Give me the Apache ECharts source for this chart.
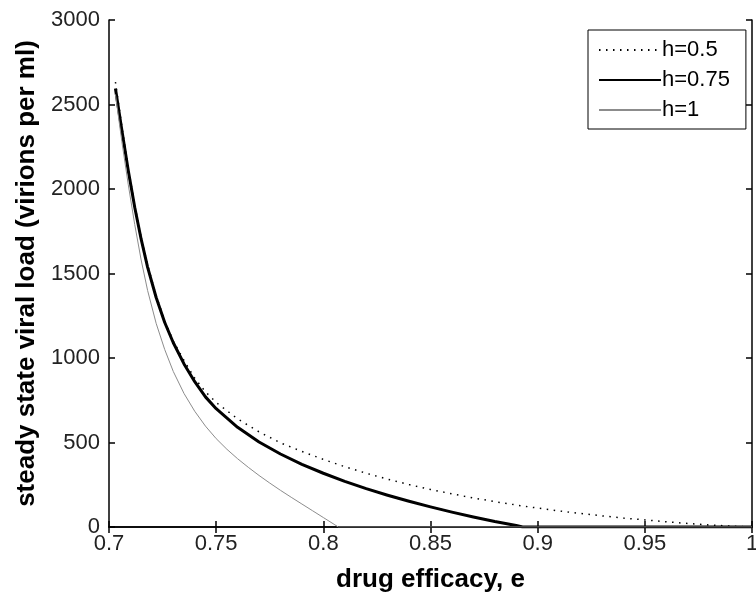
<!DOCTYPE html>
<html>
<head>
<meta charset="utf-8">
<script src="https://cdn.jsdelivr.net/npm/echarts@6/dist/echarts.min.js"></script>
<style>
  html, body { margin: 0; padding: 0; background: #fff; }
  #chart { width: 756px; height: 596px; }
</style>
</head>
<body>
<div id="chart"></div>
<script>
// Steady state viral load versus drug efficacy for three values of h
const seriesNames = ['h=0.5', 'h=0.75', 'h=1'];

// drug efficacy e and steady state viral load (virions per ml)
const efficacyH05 = [0.703, 0.706, 0.709, 0.712, 0.715, 0.718, 0.722, 0.726, 0.73, 0.735, 0.74, 0.745, 0.75, 0.76, 0.77, 0.78, 0.79, 0.80, 0.81, 0.82, 0.83, 0.84, 0.85, 0.86, 0.87, 0.88, 0.89, 0.90, 0.91, 0.92, 0.93, 0.94, 0.95, 0.96, 0.97, 0.98, 0.99, 1.0];
const loadH05 = [2633, 2370, 2125, 1905, 1715, 1550, 1370, 1220, 1100, 985, 880, 800, 737, 640, 563, 498, 447, 400, 357, 318, 283, 251, 222, 196, 172, 150, 130, 112, 95, 80, 66, 53, 42, 31, 21, 12, 5, 0];

const efficacyH075 = [0.703, 0.706, 0.709, 0.712, 0.715, 0.718, 0.722, 0.726, 0.73, 0.735, 0.74, 0.745, 0.75, 0.76, 0.77, 0.78, 0.79, 0.80, 0.81, 0.82, 0.83, 0.84, 0.85, 0.86, 0.87, 0.88, 0.89, 0.893, 0.95, 1.0];
const loadH075 = [2595, 2348, 2108, 1892, 1703, 1538, 1358, 1210, 1090, 965, 860, 770, 700, 590, 503, 432, 371, 318, 270, 227, 188, 152, 119, 88, 59, 32, 9, 0, 0, 0];

const efficacyH1 = [0.703, 0.706, 0.709, 0.712, 0.715, 0.718, 0.722, 0.726, 0.73, 0.735, 0.74, 0.745, 0.75, 0.755, 0.76, 0.765, 0.77, 0.775, 0.78, 0.785, 0.79, 0.795, 0.80, 0.805, 0.807, 0.9, 1.0];
const loadH1 = [2560, 2280, 2025, 1790, 1580, 1400, 1205, 1050, 920, 790, 685, 597, 523, 460, 404, 353, 305, 260, 217, 176, 136, 96, 56, 16, 0, 0, 0];

// axis ranges and tick spacing
const xMin = 0.7, xMax = 1.0, xStep = 0.05;
const yMin = 0, yMax = 3000, yStep = 500;

const pair = (xs, ys) => xs.map((x, i) => [x, ys[i]]);

const FONT = '"Liberation Sans", Arial, Helvetica, sans-serif';

const frameAxis = {
  axisLine: { show: true, lineStyle: { color: '#000', width: 1.5 } },
  axisTick: { show: true, inside: true, length: 6, lineStyle: { color: '#000', width: 1.5 } },
  splitLine: { show: false }
};

const chart = echarts.init(document.getElementById('chart'), null, { renderer: 'canvas' });

chart.setOption({
  animation: false,
  backgroundColor: '#fff',
  grid: { left: 109, right: 4, top: 20, bottom: 69, outerBoundsMode: 'none', containLabel: false },
  legend: {
    data: seriesNames,
    orient: 'vertical',
    left: 588,
    top: 30,
    padding: [9, 16, 8, 10],
    itemWidth: 62,
    itemHeight: 22,
    itemGap: 8,
    backgroundColor: '#fff',
    borderColor: '#000',
    borderWidth: 1,
    itemStyle: { color: 'rgba(0,0,0,0)', borderWidth: 0, opacity: 0 },
    textStyle: { fontFamily: FONT, fontSize: 22, color: '#000', padding: [0, 0, 0, -4] }
  },
  xAxis: [
    Object.assign({
      type: 'value', min: xMin, max: xMax, interval: xStep, position: 'bottom',
      name: 'drug efficacy, e', nameLocation: 'middle', nameGap: 40,
      nameTextStyle: { fontFamily: FONT, fontSize: 26, fontWeight: 'bold', color: '#000' },
      axisLabel: { fontFamily: FONT, fontSize: 22, color: '#222', margin: 6 }
    }, frameAxis),
    Object.assign({
      type: 'value', min: xMin, max: xMax, interval: xStep, position: 'top',
      axisLabel: { show: false }
    }, frameAxis)
  ],
  yAxis: [
    Object.assign({
      type: 'value', min: yMin, max: yMax, interval: yStep, position: 'left',
      name: 'steady state viral load (virions per ml)', nameLocation: 'middle', nameGap: 58,
      nameTextStyle: { fontFamily: FONT, fontSize: 26, fontWeight: 'bold', color: '#000' },
      axisLabel: { fontFamily: FONT, fontSize: 22, color: '#222', margin: 9,
                   formatter: v => String(v) }
    }, frameAxis),
    Object.assign({
      type: 'value', min: yMin, max: yMax, interval: yStep, position: 'right',
      axisLabel: { show: false }
    }, frameAxis)
  ],
  series: [
    {
      name: seriesNames[0], type: 'line', data: pair(efficacyH05, loadH05),
      symbol: 'none', smooth: false,
      lineStyle: { color: '#000', width: 1.5, type: [1.5, 5.5], cap: 'butt' },
      itemStyle: { color: '#000' }
    },
    {
      name: seriesNames[1], type: 'line', data: pair(efficacyH075, loadH075),
      symbol: 'none', smooth: false,
      lineStyle: { color: '#000', width: 3, join: 'round' },
      itemStyle: { color: '#000' }
    },
    {
      name: seriesNames[2], type: 'line', data: pair(efficacyH1, loadH1),
      symbol: 'none', smooth: false,
      lineStyle: { color: '#8c8c8c', width: 1 },
      itemStyle: { color: '#8c8c8c' }
    }
  ]
});
</script>
</body>
</html>
